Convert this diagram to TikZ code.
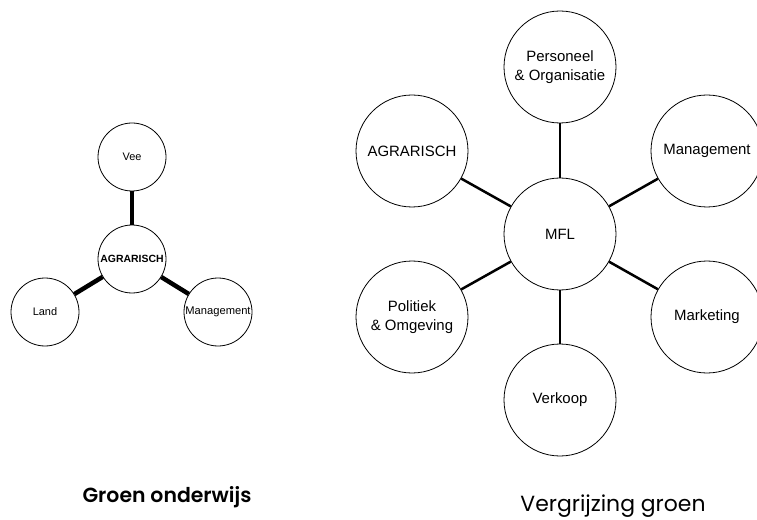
\documentclass[tikz,border=0pt]{standalone}
\usepackage{fontspec}
\setmainfont{Liberation Sans}
\newfontfamily\capfont{Poppins}
\newfontfamily\capfontsemi{Poppins}[UprightFont=* SemiBold]

\begin{document}
\begin{tikzpicture}[x=1bp,y=-1bp,
    bubble/.style={circle,draw,line width=0.8bp,inner sep=0pt,minimum size=112bp,align=center,font=\fontsize{15}{19}\selectfont},
    smallbubble/.style={circle,draw,line width=0.8bp,inner sep=0pt,minimum size=68bp,font=\fontsize{11}{13}\selectfont},
    spoke/.style={line width=2.5bp},
    thickspoke/.style={line width=4.5bp},
    caption/.style={font=\capfont\fontsize{22}{26}\selectfont}]
  \useasboundingbox (0,0) rectangle (757,520);
  % groen onderwijs
  \node[smallbubble] (agr) at (132,259) {\bfseries\fontsize{10.5}{12}\selectfont AGRARISCH};
  \node[smallbubble] (vee) at (132,157) {Vee};
  \node[smallbubble] (land) at (45,312) {Land};
  \node[smallbubble] (man) at (218,312) {\fontsize{11.2}{13}\selectfont Management};
  \draw[thickspoke] (agr) -- (vee);
  \draw[thickspoke] (agr) -- (land);
  \draw[thickspoke] (agr) -- (man);
  \node[caption] (cap1) at (167,497) {\capfontsemi\fontsize{20.5}{24}\selectfont Groen onderwijs};
  % vergrijzing groen
  \node[bubble] (mfl) at (560,234) {MFL};
  \node[bubble] (po) at (560,67) {Personeel\\\& Organisatie};
  \node[bubble] (agr2) at (412,151) {AGRARISCH};
  \node[bubble] (man2) at (707,151) {Management};
  \node[bubble] (pol) at (412,317) {Politiek\\\& Omgeving};
  \node[bubble] (mar) at (707,317) {Marketing};
  \node[bubble] (ver) at (560,400) {Verkoop};
  \foreach \n in {po,agr2,man2,pol,mar,ver}
    \draw[spoke] (mfl) -- (\n);
  \node[caption] (cap2) at (613,506) {Vergrijzing groen};
\end{tikzpicture}
\end{document}
